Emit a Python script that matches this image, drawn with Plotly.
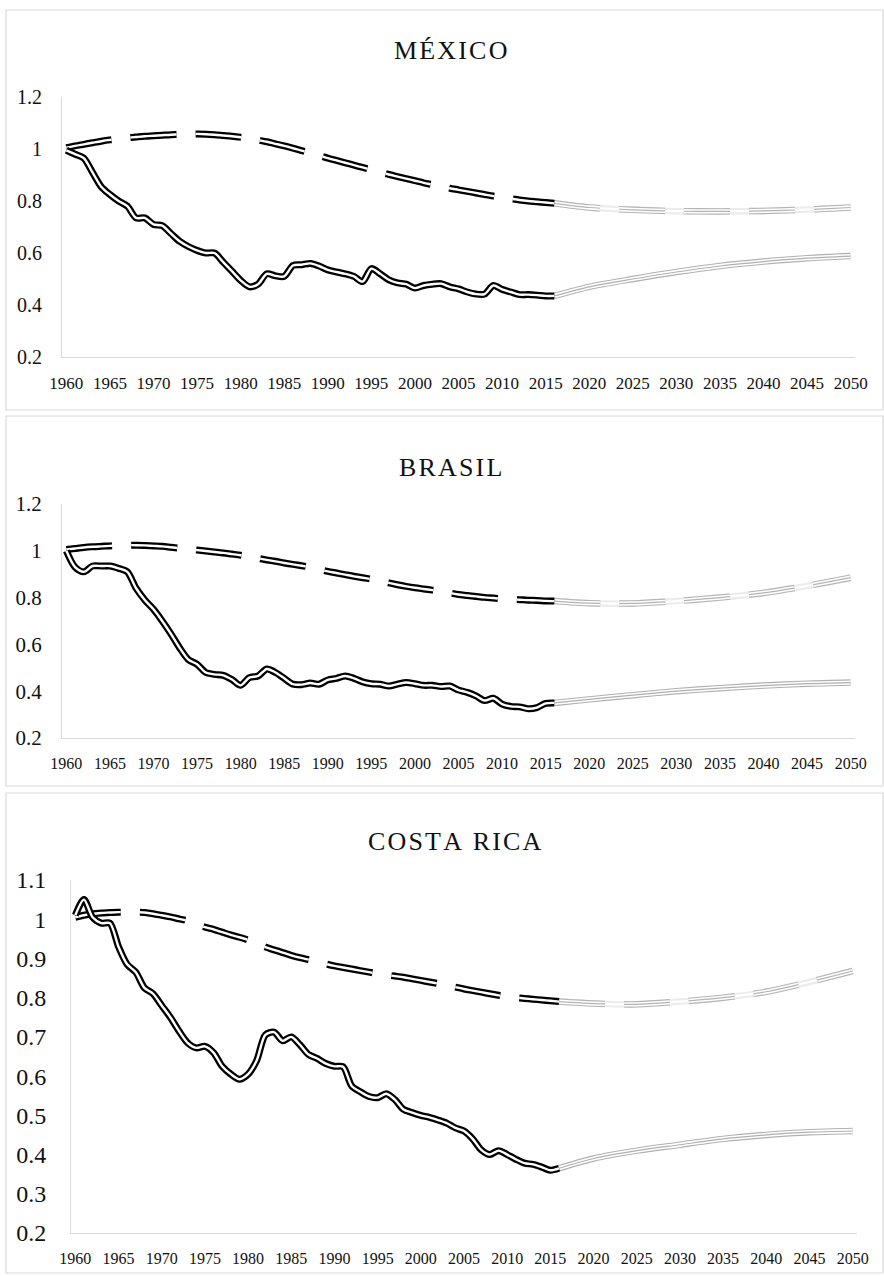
import plotly.graph_objects as go

W, H = 884, 1276

years_hist = list(range(1960, 2017))
years_proj = [2016, 2020, 2025, 2030, 2035, 2040, 2045, 2050]
tick_years = list(range(1960, 2051, 5))

titles = ["MÉXICO", "BRASIL", "COSTA RICA"]

mx_real = [0.995, 0.98, 0.965, 0.91, 0.855, 0.825, 0.80, 0.78, 0.735, 0.735,
           0.71, 0.705, 0.675, 0.645, 0.625, 0.61, 0.60, 0.60, 0.565, 0.53,
           0.495, 0.47, 0.48, 0.52, 0.512, 0.51, 0.552, 0.555, 0.56, 0.55,
           0.535, 0.527, 0.52, 0.51, 0.49, 0.54, 0.52, 0.497, 0.485, 0.48,
           0.465, 0.475, 0.48, 0.482, 0.47, 0.462, 0.45, 0.442, 0.442, 0.475,
           0.46, 0.45, 0.44, 0.44, 0.438, 0.435, 0.435]
mx_ref = [1.005, 1.012, 1.018, 1.024, 1.030, 1.035, 1.039, 1.043, 1.046, 1.049,
          1.051, 1.053, 1.055, 1.056, 1.057, 1.058, 1.057, 1.055, 1.052, 1.049,
          1.045, 1.040, 1.034, 1.028, 1.020, 1.012, 1.003, 0.994, 0.985, 0.975,
          0.965, 0.956, 0.947, 0.938, 0.929, 0.920, 0.911, 0.902, 0.894, 0.886,
          0.878, 0.870, 0.863, 0.856, 0.849, 0.843, 0.837, 0.831, 0.825, 0.819,
          0.814, 0.809, 0.804, 0.800, 0.797, 0.794, 0.791]
mx_real_proj = [0.435, 0.47, 0.50, 0.527, 0.55, 0.567, 0.58, 0.588]
mx_ref_proj = [0.791, 0.775, 0.766, 0.761, 0.76, 0.762, 0.767, 0.775]

br_real = [1.0, 0.93, 0.91, 0.935, 0.935, 0.935, 0.925, 0.91, 0.84, 0.79,
           0.75, 0.70, 0.645, 0.585, 0.535, 0.515, 0.48, 0.472, 0.468, 0.45,
           0.425, 0.458, 0.465, 0.495, 0.48, 0.455, 0.43, 0.428, 0.435, 0.43,
           0.448, 0.455, 0.465, 0.455, 0.44, 0.432, 0.43, 0.422, 0.43, 0.437,
           0.432, 0.425, 0.425, 0.42, 0.422, 0.405, 0.395, 0.38, 0.36, 0.37,
           0.345, 0.335, 0.333, 0.325, 0.33, 0.348, 0.35]
br_ref = [1.006, 1.010, 1.014, 1.017, 1.019, 1.021, 1.023, 1.024, 1.024, 1.023,
          1.021, 1.019, 1.015, 1.011, 1.007, 1.003, 0.999, 0.995, 0.991, 0.986,
          0.981, 0.975, 0.968, 0.961, 0.955, 0.948, 0.942, 0.936, 0.930, 0.921,
          0.912, 0.905, 0.898, 0.891, 0.885, 0.879, 0.873, 0.863, 0.855, 0.848,
          0.842, 0.837, 0.832, 0.827, 0.820, 0.813, 0.809, 0.805, 0.801, 0.798,
          0.795, 0.793, 0.791, 0.789, 0.788, 0.786, 0.785]
br_real_proj = [0.35, 0.365, 0.383, 0.40, 0.413, 0.424, 0.432, 0.437]
br_ref_proj = [0.785, 0.776, 0.775, 0.785, 0.80, 0.82, 0.85, 0.885]

cr_real = [1.01, 1.05, 1.005, 0.99, 0.99, 0.93, 0.885, 0.865, 0.825, 0.81,
           0.78, 0.75, 0.715, 0.685, 0.672, 0.676, 0.66, 0.625, 0.605, 0.592,
           0.605, 0.64, 0.705, 0.712, 0.69, 0.70, 0.68, 0.655, 0.645, 0.632,
           0.625, 0.624, 0.575, 0.56, 0.548, 0.545, 0.555, 0.54, 0.515, 0.507,
           0.50, 0.495, 0.488, 0.48, 0.468, 0.46, 0.44, 0.412, 0.40, 0.41,
           0.40, 0.388, 0.378, 0.375, 0.368, 0.36, 0.365]
cr_ref = [1.005, 1.010, 1.014, 1.016, 1.017, 1.018, 1.018, 1.018, 1.017, 1.014,
          1.010, 1.006, 1.001, 0.996, 0.988, 0.980, 0.974, 0.967, 0.960, 0.954,
          0.947, 0.938, 0.929, 0.922, 0.915, 0.908, 0.902, 0.897, 0.892, 0.886,
          0.881, 0.877, 0.873, 0.869, 0.865, 0.861, 0.858, 0.855, 0.852, 0.848,
          0.844, 0.840, 0.836, 0.832, 0.827, 0.822, 0.818, 0.814, 0.810, 0.806,
          0.802, 0.800, 0.798, 0.796, 0.794, 0.792, 0.790]
cr_real_proj = [0.365, 0.39, 0.41, 0.425, 0.44, 0.45, 0.457, 0.46]
cr_ref_proj = [0.79, 0.785, 0.783, 0.79, 0.80, 0.815, 0.84, 0.868]

panels = [
    dict(real=mx_real, ref=mx_ref, real_p=mx_real_proj, ref_p=mx_ref_proj,
         plot=(62, 855, 97, 357), yr=(0.2, 1.2), dt=0.2, yfs=20, xfs=17,
         ylen=15, xlen=11, title_xy=(450, 50), box=(6, 10, 883, 410)),
    dict(real=br_real, ref=br_ref, real_p=br_real_proj, ref_p=br_ref_proj,
         plot=(62, 855, 504, 738), yr=(0.2, 1.2), dt=0.2, yfs=21, xfs=16,
         ylen=15, xlen=11, title_xy=(450, 467), box=(6, 416, 883, 786)),
    dict(real=cr_real, ref=cr_ref, real_p=cr_real_proj, ref_p=cr_ref_proj,
         plot=(71, 857, 880, 1233), yr=(0.2, 1.1), dt=0.1, yfs=24, xfs=16,
         ylen=19, xlen=11, title_xy=(455, 842), box=(6, 793, 883, 1273)),
]

FONT = "Liberation Serif"
DASH = "46px,19px"
fig = go.Figure()


def px_x(v):
    return v / W


def px_y(v):
    return 1 - v / H


def add_line(i, x, y, color, width, dash="solid"):
    sfx = "" if i == 0 else str(i + 1)
    fig.add_trace(go.Scatter(
        x=x, y=y, mode="lines", xaxis="x" + sfx, yaxis="y" + sfx,
        line=dict(color=color, width=width, dash=dash, shape="spline", smoothing=0.8),
        hoverinfo="skip", showlegend=False))


shapes = []
annotations = []
for i, p in enumerate(panels):
    # projections (gray) - dashed reference
    add_line(i, years_proj, p["ref_p"], "#ececec", 6.5)
    add_line(i, years_proj, p["ref_p"], "white", 2.2)
    add_line(i, years_proj, p["ref_p"], "#b4b4b4", 6.5, DASH)
    add_line(i, years_proj, p["ref_p"], "white", 4.3, DASH)
    add_line(i, years_proj, p["ref_p"], "#b4b4b4", 1.2, DASH)
    # projections - solid
    add_line(i, years_proj, p["real_p"], "#b0b0b0", 6.5)
    add_line(i, years_proj, p["real_p"], "white", 4.3)
    add_line(i, years_proj, p["real_p"], "#b0b0b0", 1.2)
    # historical dashed reference (double line)
    add_line(i, years_hist, p["ref"], "black", 7, DASH)
    add_line(i, years_hist, p["ref"], "white", 2.4, DASH)
    # historical solid (double line)
    add_line(i, years_hist, p["real"], "black", 7)
    add_line(i, years_hist, p["real"], "white", 2.4)

    x0, x1, y0, y1 = p["plot"]
    sfx = "" if i == 0 else str(i + 1)
    fig.layout["xaxis" + sfx] = dict(
        domain=[px_x(x0), px_x(x1)], anchor="y" + sfx,
        range=[1959.5, 2050.5], tickvals=tick_years,
        ticktext=[str(t) for t in tick_years],
        showline=True, linecolor="#d9d9d9", linewidth=1,
        showgrid=False, zeroline=False, automargin=False, fixedrange=True,
        ticks="outside", ticklen=p["xlen"], tickcolor="rgba(0,0,0,0)",
        tickfont=dict(family=FONT, size=p["xfs"], color="#111111"))
    fig.layout["yaxis" + sfx] = dict(
        domain=[px_y(y1), px_y(y0)], anchor="x" + sfx,
        range=list(p["yr"]), dtick=p["dt"], tick0=0.2,
        showline=True, linecolor="#d9d9d9", linewidth=1,
        showgrid=False, zeroline=False, automargin=False, fixedrange=True,
        ticks="outside", ticklen=p["ylen"], tickcolor="rgba(0,0,0,0)",
        tickfont=dict(family=FONT, size=p["yfs"], color="#111111"))

    bx0, by0, bx1, by1 = p["box"]
    shapes.append(dict(type="rect", xref="paper", yref="paper",
                       x0=px_x(bx0), x1=px_x(bx1), y0=px_y(by1), y1=px_y(by0),
                       line=dict(color="#d9d9d9", width=1.2), layer="below"))
    tx, ty = p["title_xy"]
    annotations.append(dict(
        xref="paper", yref="paper", x=px_x(tx), y=px_y(ty),
        xanchor="center", yanchor="middle", showarrow=False,
        text="\u200a".join(titles[i]),
        font=dict(family=FONT, size=26, color="#111111")))

fig.update_layout(
    width=W, height=H, margin=dict(l=0, r=0, t=0, b=0, pad=0),
    paper_bgcolor="white", plot_bgcolor="white", hovermode=False,
    shapes=shapes, annotations=annotations, showlegend=False)

fig.write_html("out.html", config={"displayModeBar": False},
               post_script="document.body.style.margin='0';document.body.style.padding='0';")
